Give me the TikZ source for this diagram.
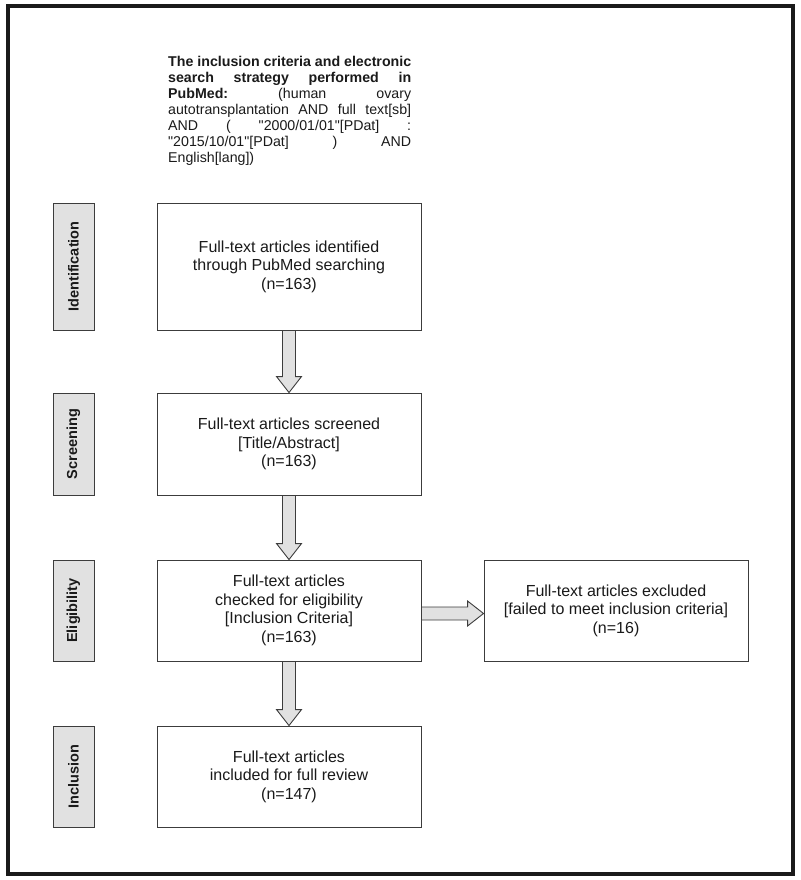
\documentclass[tikz,border=0pt]{standalone}
\usepackage{fontspec}
\setmainfont{Liberation Sans}[Ligatures=TeXOff]
\usetikzlibrary{calc}
\definecolor{edge}{HTML}{3C3C3C}
\definecolor{lab}{HTML}{E1E1E1}
\definecolor{ink}{HTML}{1A1A1A}
\begin{document}
\begin{tikzpicture}[x=1pt,y=1pt,
  mainbox/.style={draw=edge, line width=0.9pt, fill=white, minimum width=264pt,
    inner sep=0pt, align=center, text=ink,
    font=\fontsize{16}{18.5}\selectfont},
  labbox/.style={draw=edge, line width=0.9pt, fill=lab, minimum width=41pt,
    inner sep=0pt},
  labtext/.style={rotate=90, text=ink, font=\fontsize{14.5}{16}\selectfont\bfseries},
  blockarrow/.style={draw=edge, line width=0.9pt, fill=lab, line join=miter}
]
\useasboundingbox (0,0) rectangle (800,-880);
\draw[line width=4pt, color=ink] (8,-6.5) rectangle (792.5,-874);

% heading text
\node[anchor=north west, inner sep=0pt, text=ink,
  font=\fontsize{14.2}{16}\selectfont] (head) at (168,-56.5) {%
  \vbox{\baselineskip=16pt
  \hbox to 243pt{\bfseries The inclusion criteria and electronic}
  \hbox to 243pt{\bfseries search\hfill strategy\hfill performed\hfill in}
  \hbox to 243pt{\textbf{PubMed:}\hfill(human\hfill ovary}
  \hbox to 243pt{autotransplantation\hfill AND\hfill full\hfill text[sb]}
  \hbox to 243pt{AND\hfill(\hfill"2000/01/01"[PDat]\hfill:}
  \hbox to 243pt{"2015/10/01"[PDat]\hfill)\hfill AND}
  \hbox to 243pt{English[lang])\hfill}}};

% main boxes
\node[mainbox, minimum height=127pt] (b1) at (289,-266.5)
  {Full-text articles identified\\through PubMed searching\\(n=163)};
\node[mainbox, minimum height=102pt] (b2) at (289,-444)
  {Full-text articles screened\\{[Title/Abstract]}\\(n=163)};
\node[mainbox, minimum height=101pt] (b3) at (289,-610.5)
  {Full-text articles\\checked for eligibility\\{[Inclusion Criteria]}\\(n=163)};
\node[mainbox, minimum height=101pt] (b4) at (289,-776.5)
  {Full-text articles\\included for full review\\(n=147)};
\node[mainbox, minimum height=101pt] (ex) at (616,-610.5)
  {Full-text articles excluded\\{[failed to meet inclusion criteria]}\\(n=16)};

% stage labels
\node[labbox, minimum height=127pt] (l1) at (73.5,-266.5) {};
\node[labtext] at (l1.center) {Identification};
\node[labbox, minimum height=102pt] (l2) at (73.5,-444) {};
\node[labtext] at (l2.center) {Screening};
\node[labbox, minimum height=101pt] (l3) at (73.5,-610.5) {};
\node[labtext] at (l3.center) {Eligibility};
\node[labbox, minimum height=101pt] (l4) at (73.5,-776.5) {};
\node[labtext] at (l4.center) {Inclusion};

% block arrows
\foreach \a/\b in {b1/b2, b2/b3, b3/b4}{
  \draw[blockarrow] ($(\a.south)+(-6.5,0)$) -- ($(\b.north)+(-6.5,16)$)
    -- ($(\b.north)+(-12.5,16)$) -- (\b.north) -- ($(\b.north)+(12.5,16)$)
    -- ($(\b.north)+(6.5,16)$) -- ($(\a.south)+(6.5,0)$) -- cycle;
}
\draw[blockarrow] ($(b3.east)+(0,3.5)$) -- ($(ex.west)+(-16,3.5)$)
  -- ($(ex.west)+(-16,9.5)$) -- ($(ex.west)+(0,-3)$) -- ($(ex.west)+(-16,-15.5)$)
  -- ($(ex.west)+(-16,-9.5)$) -- ($(b3.east)+(0,-9.5)$) -- cycle;
\end{tikzpicture}
\end{document}
